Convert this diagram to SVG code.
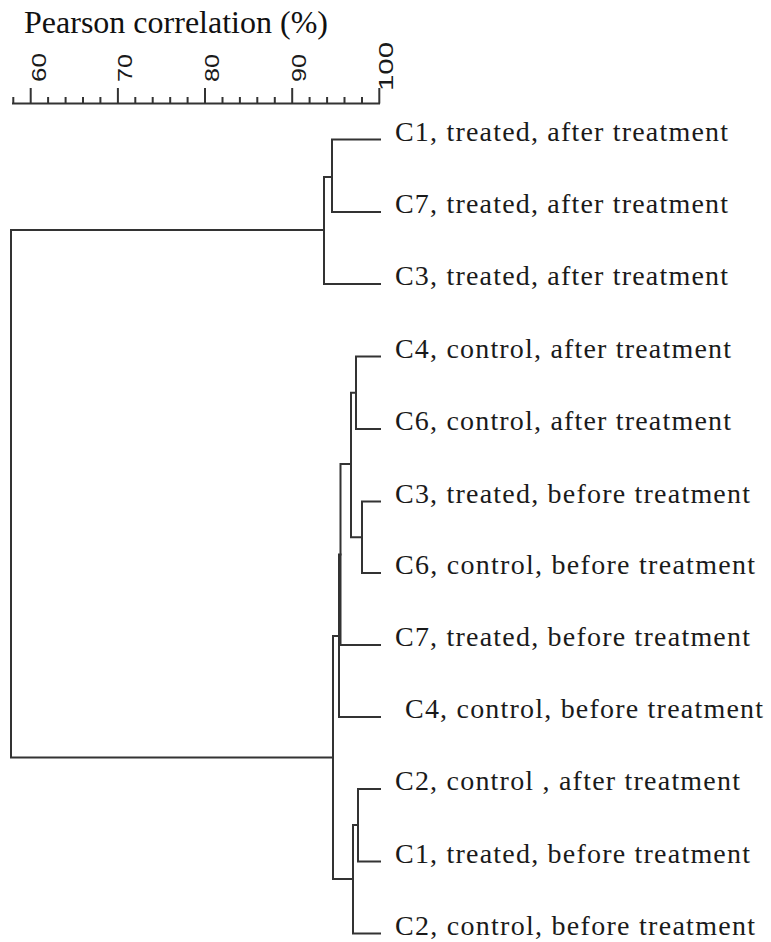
<svg xmlns="http://www.w3.org/2000/svg" width="771" height="942" viewBox="0 0 771 942">
  <style>
    .ln { fill: none; stroke: #333; stroke-width: 2; stroke-linejoin: miter; stroke-linecap: square; }
    .ax { fill: none; stroke: #333; stroke-width: 2; }
    .lbl { font-family: "Liberation Serif", "Times New Roman", serif; font-size: 28px; fill: #1a1a1a; }
    .tk { font-family: "Liberation Sans", Arial, sans-serif; font-size: 20px; fill: #1a1a1a; }
    .ttl { font-family: "Liberation Serif", "Times New Roman", serif; font-size: 32px; fill: #111; }
  </style>
  <rect width="771" height="942" fill="#ffffff"/>

  <g id="axis">
    <text class="ttl" x="24" y="33" textLength="304" lengthAdjust="spacingAndGlyphs">Pearson correlation (%)</text>
    <path class="ax" d="M12,103.5 H380"/>
    <path class="ax" d="M30.7,103.5 V88 M117.9,103.5 V88 M205,103.5 V88 M292.2,103.5 V88 M379.3,103.5 V88"/>
    <path class="ax" d="M13.3,103.5 V97 M48.1,103.5 V97 M65.6,103.5 V97 M83,103.5 V97 M100.4,103.5 V97 M135.3,103.5 V97 M152.7,103.5 V97 M170.2,103.5 V97 M187.6,103.5 V97 M222.5,103.5 V97 M239.9,103.5 V97 M257.3,103.5 V97 M274.8,103.5 V97 M309.6,103.5 V97 M327.1,103.5 V97 M344.5,103.5 V97 M362,103.5 V97"/>
    <text class="tk" transform="translate(46,82) rotate(-90)" textLength="29" lengthAdjust="spacingAndGlyphs">60</text>
    <text class="tk" transform="translate(132,82) rotate(-90)" textLength="28" lengthAdjust="spacingAndGlyphs">70</text>
    <text class="tk" transform="translate(219,82) rotate(-90)" textLength="28" lengthAdjust="spacingAndGlyphs">80</text>
    <text class="tk" transform="translate(306,82) rotate(-90)" textLength="28" lengthAdjust="spacingAndGlyphs">90</text>
    <text class="tk" transform="translate(393,91) rotate(-90)" textLength="49" lengthAdjust="spacingAndGlyphs">100</text>
  </g>

  <g id="connectors">
    <path class="ln" d="M380,139.5 H332 V212 H380"/>
    <path class="ln" d="M332,177 H324 V284 H380"/>
    <path class="ln" d="M324,230 H11 V757.5 H333"/>
    <path class="ln" d="M380,356.5 H356 V429 H380"/>
    <path class="ln" d="M380,501.5 H362 V573 H380"/>
    <path class="ln" d="M356,392.7 H351 V537.3 H362"/>
    <path class="ln" d="M351,464 H340.5 V645 H380"/>
    <path class="ln" d="M340.5,554.5 H339 V717 H380"/>
    <path class="ln" d="M380,789 H358 V861.5 H380"/>
    <path class="ln" d="M358,825 H353 V933.5 H380"/>
    <path class="ln" d="M339,636 H333 V879 H353"/>
  </g>

  <g id="leaf-c1-treated-after"><text class="lbl" x="395" y="140.5" textLength="333" lengthAdjust="spacing">C1, treated, after treatment</text></g>
  <g id="leaf-c7-treated-after"><text class="lbl" x="395" y="213" textLength="333" lengthAdjust="spacing">C7, treated, after treatment</text></g>
  <g id="leaf-c3-treated-after"><text class="lbl" x="395" y="285" textLength="333" lengthAdjust="spacing">C3, treated, after treatment</text></g>
  <g id="leaf-c4-control-after"><text class="lbl" x="395" y="357.5" textLength="336" lengthAdjust="spacing">C4, control, after treatment</text></g>
  <g id="leaf-c6-control-after"><text class="lbl" x="395" y="430" textLength="336" lengthAdjust="spacing">C6, control, after treatment</text></g>
  <g id="leaf-c3-treated-before"><text class="lbl" x="395" y="502.5" textLength="355" lengthAdjust="spacing">C3, treated, before treatment</text></g>
  <g id="leaf-c6-control-before"><text class="lbl" x="395" y="574" textLength="360" lengthAdjust="spacing">C6, control, before treatment</text></g>
  <g id="leaf-c7-treated-before"><text class="lbl" x="395" y="646" textLength="355" lengthAdjust="spacing">C7, treated, before treatment</text></g>
  <g id="leaf-c4-control-before"><text class="lbl" x="405" y="718" textLength="358" lengthAdjust="spacing">C4, control, before treatment</text></g>
  <g id="leaf-c2-control-after"><text class="lbl" x="395" y="790" textLength="345" lengthAdjust="spacing">C2, control , after treatment</text></g>
  <g id="leaf-c1-treated-before"><text class="lbl" x="395" y="862.5" textLength="355" lengthAdjust="spacing">C1, treated, before treatment</text></g>
  <g id="leaf-c2-control-before"><text class="lbl" x="395" y="934.5" textLength="360" lengthAdjust="spacing">C2, control, before treatment</text></g>
</svg>
